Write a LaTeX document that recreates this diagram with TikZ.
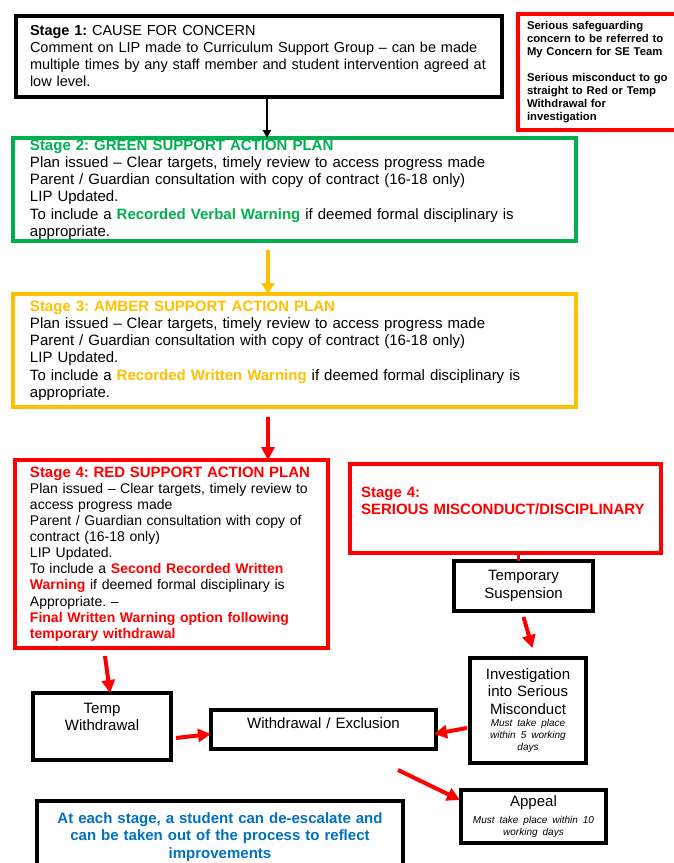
\documentclass[tikz,border=0pt]{standalone}
\usepackage{fontspec}
\setmainfont{Liberation Sans}
\usetikzlibrary{arrows.meta}
\definecolor{sgreen}{HTML}{00B050}
\definecolor{samber}{HTML}{FFC000}
\definecolor{sred}{HTML}{FF0000}
\definecolor{sblue}{HTML}{0070C0}
\newcommand{\bodyfont}{\fontsize{15}{17.25}\selectfont\frenchspacing}
\newcommand{\redfont}{\fontsize{14}{16.1}\selectfont\frenchspacing}
\newcommand{\notefont}{\fontsize{11.3}{13}\selectfont\bfseries}
\newcommand{\smallit}{\fontsize{10}{12}\selectfont\itshape}
\newcommand{\padbelow}[1]{\rule[-#1]{0pt}{#1}}

\begin{document}
\begin{tikzpicture}[x=1pt, y=-1pt,
	box/.style={draw, line width=4pt, outer sep=0pt, anchor=north west, inner ysep=0pt, align=left, font=\bodyfont},
	cbox/.style={box, align=center},
	blackarrow/.style={line width=2pt, -{Triangle[length=8pt,width=8pt]}},
	amberarrow/.style={line width=3.5pt, samber, -{Triangle[length=11pt,width=13pt]}},
	redarrow/.style={line width=4pt, sred, -{Triangle[length=13pt,width=13pt]}}]
			%%%%% START %%%%%
			
			\fill[white] (0, 0) rectangle (673, 863);
			\useasboundingbox (0, 0) rectangle (673, 863);
			
			\node[box, minimum width=486pt, minimum height=81pt, inner xsep=4pt, text width=478pt, font=\fontsize{14.5}{17}\selectfont\frenchspacing] (stageone) at (16, 16)
				{\leftskip=10pt\textbf{Stage 1:} CAUSE FOR CONCERN\\Comment on LIP made to Curriculum Support Group -- can be made\\multiple times by any staff member and student intervention agreed at\\low level.\par};
			
			\node[box, draw=sred, minimum width=170pt, minimum height=116pt, inner xsep=9pt, text width=152pt, font=\notefont] (note) at (518, 14)
				{Serious safeguarding\\concern to be referred to\\My Concern for SE Team\\[13pt]Serious misconduct to go\\straight to Red or Temp\\Withdrawal for\\investigation};
			
			\node[box, draw=sgreen, minimum width=563pt, minimum height=103pt, inner xsep=17pt, text width=529pt] (green) at (13, 138)
				{\textcolor{sgreen}{\textbf{Stage 2: GREEN SUPPORT ACTION PLAN}}\\Plan issued -- Clear targets, timely review to access progress made\\Parent / Guardian consultation with copy of contract (16-18 only)\\LIP Updated.\\To include a \textcolor{sgreen}{\textbf{Recorded Verbal Warning}} if deemed formal disciplinary is\\appropriate.};
			
			\node[box, draw=samber, minimum width=563pt, minimum height=113pt, inner xsep=17pt, text width=529pt] (amber) at (13, 294)
				{\textcolor{samber}{\textbf{Stage 3: AMBER SUPPORT ACTION PLAN}}\\Plan issued -- Clear targets, timely review to access progress made\\Parent / Guardian consultation with copy of contract (16-18 only)\\LIP Updated.\\To include a \textcolor{samber}{\textbf{Recorded Written Warning}} if deemed formal disciplinary is\\appropriate.};
			
			\node[box, draw=sred, minimum width=313pt, minimum height=188pt, inner xsep=15pt, text width=283pt, font=\redfont] (redfour) at (15, 460)
				{\textcolor{sred}{\fontsize{15}{16.1}\selectfont\textbf{Stage 4: RED SUPPORT ACTION PLAN}}\\Plan issued -- Clear targets, timely review to\\access progress made\\Parent / Guardian consultation with copy of\\contract (16-18 only)\\LIP Updated.\\To include a \textcolor{sred}{\textbf{Second Recorded Written}}\\\textcolor{sred}{\textbf{Warning}} if deemed formal disciplinary is\\Appropriate. --\\\textcolor{sred}{\textbf{Final Written Warning option following}}\\\textcolor{sred}{\textbf{temporary withdrawal}}};
			
			\node[box, draw=sred, minimum width=311pt, minimum height=89pt, inner xsep=11pt, text width=289pt, font=\bodyfont\bfseries\color{sred}] (serious) at (350, 464)
				{Stage 4:\\SERIOUS MISCONDUCT/DISCIPLINARY\padbelow{15pt}};
			
			\node[cbox, minimum width=139pt, minimum height=50pt, inner xsep=4pt, text width=131pt] (suspension) at (454, 561)
				{Temporary\\Suspension};
			
			\node[cbox, minimum width=116pt, minimum height=105pt, inner xsep=3pt, text width=110pt] (inv) at (470, 658)
				{Investigation\\into Serious\\Misconduct\par{\smallit Must take place\\within 5 working\\days\par}};
			
			\node[cbox, minimum width=138pt, minimum height=67pt, inner xsep=4pt, text width=130pt] (tw) at (33, 693)
				{Temp\\Withdrawal\padbelow{20pt}};
			
			\node[cbox, minimum width=225pt, minimum height=39pt, inner xsep=4pt, text width=217pt] (we) at (211, 710)
				{Withdrawal / Exclusion\padbelow{12pt}};
			
			\node[cbox, minimum width=145pt, minimum height=53pt, inner xsep=3pt, text width=139pt] (appeal) at (461, 790)
				{Appeal\par{\smallit\rule{0pt}{13pt}Must take place within 10\\working days\par}};
			
			\node[cbox, minimum width=366pt, minimum height=72pt, inner xsep=6pt, text width=354pt, font=\bodyfont\bfseries\color{sblue}] (blue) at (37, 801)
				{At each stage, a student can de-escalate and\\can be taken out of the process to reflect\\improvements};
			
			\draw[blackarrow] ([xshift=8pt]stageone.south) -- ([xshift=8pt]stageone.south |- green.north);
			\draw[amberarrow] ([xshift=-26.5pt,yshift=-9pt]green.south) -- ([xshift=-26.5pt]amber.north);
			\draw[redarrow] ([xshift=-26.5pt,yshift=-10pt]amber.south) -- ([xshift=-26.5pt]amber.south |- redfour.north);
			
			\draw[redarrow] ([xshift=-66.5pt,yshift=-8pt]redfour.south) -- ([xshift=8pt]tw.north);
			\draw[line width=3pt, sred] ([xshift=12.5pt]serious.south) -- ([xshift=12.5pt]serious.south |- suspension.north);
			\draw[redarrow] ([yshift=-6pt]suspension.south) -- ([xshift=4.5pt,yshift=10pt]inv.north);
			\draw[redarrow] ([xshift=5pt,yshift=-11.5pt]tw.east) -- ([yshift=-4.5pt]we.west);
			\draw[redarrow] ([xshift=-3pt,yshift=-17.5pt]inv.west) -- ([xshift=-2pt,yshift=-4.5pt]we.east);
			\draw[redarrow] ([xshift=74.5pt,yshift=-21pt]we.south) -- ([xshift=-1pt,yshift=16.5pt]appeal.west);
			
			%%%%% END %%%%%
\end{tikzpicture}
\end{document}
